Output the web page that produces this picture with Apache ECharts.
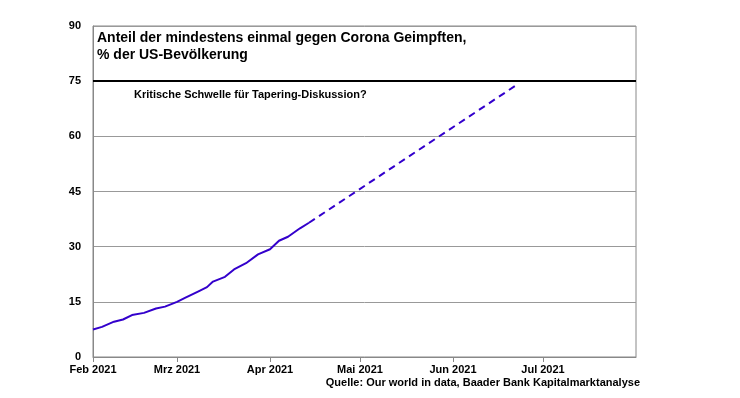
<!DOCTYPE html>
<html>
<head>
<meta charset="utf-8">
<script src="https://cdn.jsdelivr.net/npm/echarts@6/dist/echarts.min.js"></script>
<style>
html,body{margin:0;padding:0;background:#fff;}
#chart{width:740px;height:398px;}
</style>
</head>
<body>
<div id="chart"></div>
<script>
// Data
var actualDates = ['2021-02-01','2021-02-04','2021-02-08','2021-02-11','2021-02-14','2021-02-18','2021-02-22','2021-02-25','2021-03-01','2021-03-04','2021-03-08','2021-03-11','2021-03-13','2021-03-17','2021-03-20','2021-03-24','2021-03-28','2021-04-01','2021-04-04','2021-04-07','2021-04-11','2021-04-14'];
var actualValues = [7.5, 8.2, 9.6, 10.2, 11.4, 12.0, 13.2, 13.7, 15.0, 16.2, 17.8, 19.0, 20.5, 21.8, 23.8, 25.5, 27.9, 29.3, 31.6, 32.7, 35.0, 36.5];
var forecastDates = ['2021-04-14','2021-06-23'];
var forecastValues = [36.5, 74.4];
var thresholdValue = 75;
var monthNames = ['Jan','Feb','Mrz','Apr','Mai','Jun','Jul','Aug','Sep','Okt','Nov','Dez'];
var yTicks = [0, 15, 30, 45, 60, 75, 90];
var xMin = '2021-02-01';
var xMax = '2021-08-01';
var titleText = 'Anteil der mindestens einmal gegen Corona Geimpften,\n% der US-Bevölkerung';
var annotationText = 'Kritische Schwelle für Tapering-Diskussion?';
var sourceText = 'Quelle: Our world in data, Baader Bank Kapitalmarktanalyse';

function zip(a, b) { return a.map(function (d, i) { return [d, b[i]]; }); }

var chart = echarts.init(document.getElementById('chart'), null, {renderer: 'canvas'});
var FONT = '"Liberation Sans", Arial, sans-serif';
chart.setOption({
  animation: false,
  backgroundColor: '#fff',
  title: [
    {text: titleText, left: 97, top: 30, padding: 0,
     textStyle: {fontFamily: FONT, fontWeight: 'bold', fontSize: 14, color: '#000', lineHeight: 17}},
    {text: annotationText, left: 134, top: 89, padding: 0,
     textStyle: {fontFamily: FONT, fontWeight: 'bold', fontSize: 11, color: '#000'}},
    {text: sourceText, right: 100, top: 377, padding: 0,
     textStyle: {fontFamily: FONT, fontWeight: 'bold', fontSize: 11, color: '#000'}}
  ],
  grid: {left: 93, right: 104, top: 26, bottom: 41, show: true, borderColor: '#888', borderWidth: 1, backgroundColor: 'transparent'},
  xAxis: {
    type: 'time',
    min: xMin, max: xMax,
    minInterval: 28 * 86400000,
    maxInterval: 31 * 86400000,
    axisLine: {show: true, lineStyle: {color: '#888', width: 1}},
    axisTick: {show: true, length: 5, lineStyle: {color: '#888'}},
    splitLine: {show: false},
    axisLabel: {
      fontFamily: FONT, fontWeight: 'bold', fontSize: 11, color: '#000', margin: 7,
      hideOverlap: false, showMaxLabel: false, showMinLabel: true,
      formatter: function (v) {
        var d = new Date(v);
        if (d.getMonth() === 7) return '';
        return monthNames[d.getMonth()] + ' ' + d.getFullYear();
      }
    }
  },
  yAxis: {
    type: 'value', min: yTicks[0], max: yTicks[yTicks.length - 1], interval: 15,
    axisLine: {show: true, lineStyle: {color: '#888', width: 1}},
    axisTick: {show: false},
    splitLine: {show: true, lineStyle: {color: '#999', width: 1}},
    axisLabel: {fontFamily: FONT, fontWeight: 'bold', fontSize: 11, color: '#000', margin: 12}
  },
  series: [
    {
      type: 'line', data: zip(actualDates, actualValues), showSymbol: false, smooth: false,
      lineStyle: {color: '#3300cc', width: 2}, z: 3,
      markLine: {
        silent: true, symbol: ['none', 'none'], label: {show: false},
        lineStyle: {color: '#000', width: 2, type: 'solid'},
        data: [{yAxis: thresholdValue}]
      }
    },
    {
      type: 'line', data: zip(forecastDates, forecastValues), showSymbol: false,
      lineStyle: {color: '#3300cc', width: 2, type: [7, 5]}, z: 3
    }
  ]
});
</script>
</body>
</html>
